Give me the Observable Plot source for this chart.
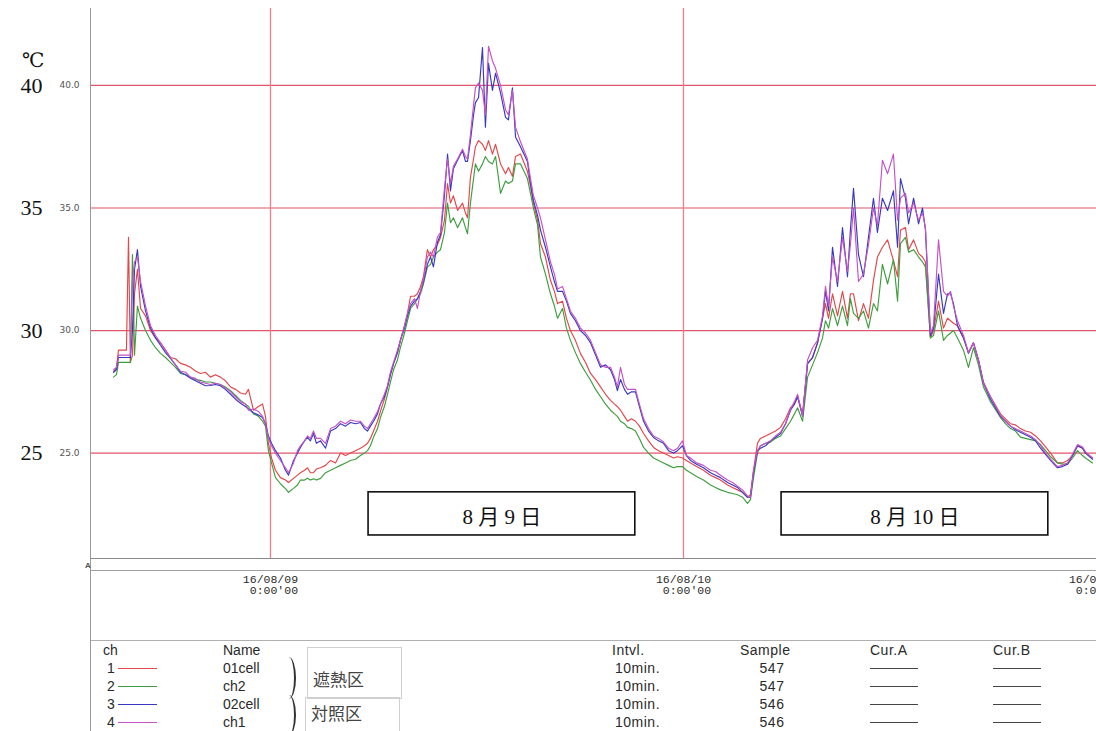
<!DOCTYPE html>
<html><head><meta charset="utf-8">
<script src="https://cdn.jsdelivr.net/npm/d3@7"></script>
<script src="https://cdn.jsdelivr.net/npm/@observablehq/plot@0.6"></script>
<style>
html,body{margin:0;padding:0;background:#fff;overflow:hidden;}
#wrap{position:relative;width:1096px;height:731px;overflow:hidden;background:#fff;}
#wrap .t{position:absolute;line-height:16px;height:16px;white-space:nowrap;color:#2a2a2a;font-family:"Liberation Sans",Arial,sans-serif;font-size:14px;}
#wrap .mono{font-family:"Liberation Sans",Arial,sans-serif;font-size:14px;color:#2a2a2a;letter-spacing:0.5px;}
#wrap .ln{position:absolute;}
#wrap .cjk{font-family:"Noto Sans CJK JP",sans-serif;font-size:17px;color:#444;line-height:20px;height:20px;}
</style></head><body><div id="wrap"></div>
<script>
// time in hours relative to 2016-08-09 0:00
const hours = [
-9.12,-8.95,-8.83,-8.37,-8.25,-8.14,-8.02,-7.90,-7.73,-7.55,
-7.26,-6.97,-6.68,-6.39,-6.10,-5.81,-5.52,-5.23,-4.94,-4.65,
-4.36,-4.07,-3.78,-3.49,-3.20,-2.91,-2.62,-2.32,-2.03,-1.74,
-1.45,-1.28,-0.99,-0.70,-0.46,-0.29,-0.12,0.06,0.29,0.58,
0.87,1.05,1.34,1.57,1.74,1.98,2.15,2.32,2.50,2.67,
2.91,3.20,3.49,3.78,4.07,4.36,4.65,4.94,5.23,5.46,
5.64,5.81,5.99,6.22,6.39,6.62,6.80,6.97,7.15,7.38,
7.55,7.79,7.96,8.14,8.37,8.54,8.72,8.89,9.12,9.30,
9.47,9.70,9.88,10.11,10.29,10.46,10.63,10.87,11.16,11.33,
11.45,11.62,11.80,11.91,12.09,12.32,12.49,12.67,12.90,13.08,
13.37,13.66,13.83,14.06,14.24,14.53,14.93,15.11,15.28,15.52,
15.69,15.98,16.27,16.50,16.68,16.97,17.20,17.43,17.72,18.01,
18.31,18.60,18.89,19.18,19.47,19.76,19.99,20.16,20.34,20.57,
20.75,20.98,21.21,21.44,21.68,21.97,22.26,22.55,22.84,23.13,
23.42,23.65,23.94,24.17,24.41,24.76,25.16,25.57,25.86,26.15,
26.56,26.85,27.14,27.43,27.72,27.89,28.07,28.30,28.47,28.77,
29.06,29.35,29.64,29.93,30.22,30.45,30.63,30.92,31.21,31.50,
31.79,32.08,32.25,32.43,32.66,32.95,33.24,33.53,33.70,33.88,
34.17,34.46,34.75,35.04,35.27,35.56,35.86,36.20,36.44,36.61,
36.90,37.08,37.37,37.66,37.89,38.06,38.35,38.53,38.82,39.11,
39.34,39.52,39.69,39.92,40.27,40.56,40.85,41.14,41.43,41.84,
42.42,42.71,43.00,43.29,43.58,43.87,44.17,44.46,44.75,45.04,
45.33,45.73,46.02,46.32,46.61,46.90,47.19,47.36,47.77
];
// ch1 01cell (red)
const ch1 = [
28.3,28.5,29.2,29.2,33.8,28.7,29.0,31.5,32.5,30.9,
30.6,30.0,29.7,29.5,29.2,28.9,28.85,28.66,28.6,28.5,
28.35,28.25,28.3,28.1,28.2,28.1,27.95,27.7,27.6,27.45,
27.4,27.6,26.75,26.9,27.0,26.5,25.4,24.8,24.3,24.0,
23.9,23.8,23.97,24.1,24.2,24.3,24.4,24.2,24.2,24.35,
24.4,24.5,24.7,24.6,25.0,24.9,25.0,25.1,25.2,25.3,
25.4,25.6,25.9,26.3,26.7,27.2,27.7,28.2,28.65,29.1,
29.6,30.2,30.7,31.4,31.4,31.5,31.8,32.2,33.3,33.0,
33.3,33.5,33.8,34.5,36.0,35.2,35.5,34.9,35.2,34.8,
34.6,36.25,37.0,37.5,37.75,37.6,37.35,37.75,37.2,37.6,
36.8,36.4,36.65,36.3,37.1,37.2,36.5,35.9,35.2,34.5,
33.55,33.0,32.05,31.6,31.1,31.2,30.5,30.0,29.6,29.07,
28.7,28.25,28.0,27.7,27.4,27.15,27.0,26.9,26.75,26.5,
26.3,26.4,26.3,26.1,25.8,25.5,25.23,25.1,25.0,24.9,
24.8,24.85,24.8,24.7,24.6,24.45,24.3,24.1,24.0,23.9,
23.7,23.6,23.5,23.4,23.2,23.3,24.3,25.4,25.6,25.7,
25.8,25.9,26.05,26.4,26.85,27.0,27.3,26.6,28.65,28.9,
29.5,30.5,31.1,30.5,31.5,30.6,31.6,30.5,31.5,31.5,
30.4,31.1,30.5,32.05,33.0,33.4,33.7,32.85,32.2,34.1,
34.2,33.3,33.7,33.15,33.0,32.8,29.7,30.0,31.2,30.1,
30.5,30.4,30.3,30.2,29.7,29.1,29.5,28.8,27.9,27.3,
26.6,26.4,26.2,26.15,26.0,25.9,25.85,25.7,25.5,25.25,
25.0,24.6,24.6,24.7,24.9,25.3,25.2,25.0,24.8
];
// ch2 (green)
const ch2 = [
28.1,28.2,28.7,28.7,28.7,28.7,33.1,29.0,31.0,30.5,
30.0,29.6,29.3,29.07,28.9,28.7,28.5,28.25,28.2,28.1,
28.0,27.97,27.9,27.9,27.85,27.8,27.7,27.55,27.35,27.15,
27.0,26.9,26.6,26.5,26.3,26.1,25.1,24.6,24.0,23.75,
23.55,23.4,23.56,23.7,23.9,23.9,23.97,23.9,23.95,23.9,
23.97,24.2,24.3,24.4,24.5,24.6,24.7,24.75,24.9,25.0,
25.1,25.3,25.65,26.0,26.45,26.9,27.4,27.9,28.4,28.8,
29.3,29.9,30.4,30.9,31.1,31.3,31.5,31.9,32.6,32.7,
33.0,33.2,33.3,34.0,35.2,34.4,34.6,34.2,34.6,34.2,
33.95,35.2,36.2,36.8,36.5,36.8,37.1,36.9,36.8,37.1,
35.6,36.1,36.0,36.1,36.8,36.8,36.2,35.6,35.0,34.3,
33.0,32.3,31.5,31.0,30.5,30.9,30.1,29.6,29.1,28.66,
28.3,27.97,27.6,27.3,27.0,26.75,26.6,26.5,26.3,26.2,
26.05,26.0,25.9,25.6,25.23,25.0,24.8,24.7,24.6,24.5,
24.4,24.45,24.45,24.3,24.2,24.05,23.9,23.7,23.6,23.5,
23.4,23.35,23.3,23.2,22.95,23.1,24.0,25.0,25.3,25.4,
25.45,25.6,25.7,26.0,26.3,26.6,26.85,26.3,28.1,28.6,
29.1,29.7,30.4,30.1,30.9,30.2,31.0,30.2,31.3,30.7,
30.5,30.8,30.1,31.1,30.8,32.7,31.9,32.9,31.2,33.55,
33.8,33.2,33.3,33.0,32.8,32.6,29.7,29.8,30.8,29.6,
29.8,29.9,30.0,29.7,29.2,28.5,29.3,28.6,27.7,27.1,
26.45,26.2,26.0,25.9,25.65,25.6,25.55,25.5,25.35,25.1,
24.85,24.6,24.55,24.55,24.8,25.1,24.9,24.8,24.6
];
// ch3 02cell (blue)
const ch3 = [
28.3,28.4,28.9,28.9,28.9,28.9,30.0,32.5,33.3,31.8,
30.8,30.1,29.7,29.4,29.1,28.86,28.6,28.3,28.2,28.05,
27.95,27.85,27.75,27.76,27.8,27.75,27.6,27.4,27.2,27.03,
26.9,26.8,26.65,26.55,26.45,26.2,25.7,25.4,25.1,24.8,
24.3,24.1,24.7,25.0,25.23,25.5,25.64,25.5,25.8,25.4,
25.5,25.2,25.9,26.0,26.2,26.1,26.25,26.2,26.25,26.0,
25.9,26.1,26.3,26.6,27.0,27.3,27.7,28.2,28.65,29.1,
29.6,30.1,30.6,31.0,31.2,31.3,31.6,32.0,32.7,33.0,
32.6,33.6,33.9,35.5,37.2,35.7,36.6,36.95,37.35,36.9,
36.9,37.75,38.8,39.3,39.5,41.55,38.3,40.9,39.8,40.5,
39.7,38.7,38.6,39.9,37.9,37.5,36.9,36.0,35.3,34.7,
34.1,33.4,32.6,32.0,31.6,31.6,31.2,30.7,30.4,30.0,
29.8,29.5,29.0,28.5,28.6,28.4,28.0,27.55,28.0,27.6,
27.4,27.5,27.5,26.9,26.3,25.9,25.64,25.5,25.4,25.1,
25.0,25.1,25.3,24.9,24.7,24.55,24.4,24.2,24.1,24.0,
23.8,23.7,23.6,23.4,23.2,23.2,24.2,25.1,25.2,25.3,
25.5,25.65,25.8,26.2,26.75,27.0,27.3,26.5,28.65,28.9,
29.5,30.5,31.6,30.8,33.4,31.8,34.2,32.2,34.1,35.8,
33.1,32.2,33.8,35.4,34.0,35.4,34.9,35.7,33.4,36.2,
35.4,34.35,35.4,34.35,35.0,34.1,29.8,30.1,32.3,30.7,
31.5,31.5,31.1,30.2,29.7,29.07,29.5,28.8,27.85,27.2,
26.5,26.3,26.1,25.95,25.85,25.75,25.65,25.5,25.2,24.95,
24.7,24.4,24.45,24.55,24.9,25.3,25.2,25.0,24.75
];
// ch4 ch1 (magenta)
const ch4 = [
28.4,28.5,29.0,29.0,29.0,29.0,32.0,32.8,33.0,32.0,
31.0,30.2,29.8,29.5,29.2,28.9,28.6,28.35,28.3,28.1,
28.05,27.9,27.85,27.8,27.85,27.8,27.65,27.5,27.3,27.1,
27.0,26.75,26.8,26.7,26.5,26.2,25.6,25.3,25.0,24.7,
24.4,24.2,24.6,25.1,25.3,25.5,25.7,25.6,25.9,25.6,
25.6,25.4,26.0,26.1,26.3,26.2,26.35,26.3,26.3,26.1,
26.0,26.2,26.4,26.7,27.0,27.4,27.75,28.3,28.7,29.2,
29.6,30.2,30.7,31.1,31.3,30.9,31.6,32.1,33.0,33.2,
33.0,33.8,34.0,35.8,37.0,36.0,36.7,37.0,37.4,37.1,
37.0,38.0,39.2,39.9,40.1,39.8,38.8,41.6,41.0,40.7,
40.0,39.0,38.8,39.8,38.3,37.7,37.0,36.2,35.5,35.0,
34.6,33.7,32.8,32.3,31.7,31.8,31.3,30.8,30.5,30.1,
29.9,29.6,29.1,28.6,28.5,28.5,28.1,27.7,28.5,27.8,
27.6,27.6,27.6,27.0,26.4,26.0,25.7,25.6,25.45,25.2,
25.1,25.2,25.5,24.9,24.8,24.6,24.5,24.3,24.25,24.1,
23.9,23.8,23.65,23.5,23.25,23.2,24.3,25.1,25.3,25.4,
25.5,25.7,25.85,26.2,26.8,27.1,27.4,26.5,28.8,29.3,
29.6,30.6,31.8,31.0,33.0,32.0,33.8,32.4,33.5,35.0,
32.0,32.3,33.5,35.0,34.3,36.95,36.4,37.2,34.5,35.4,
35.6,34.8,35.2,34.5,34.8,34.2,29.9,30.2,33.7,31.6,
31.4,31.6,31.0,30.4,29.8,29.1,29.5,28.8,27.85,27.3,
26.55,26.3,26.1,26.0,25.9,25.8,25.7,25.55,25.3,25.0,
24.75,24.45,24.5,24.6,24.95,25.35,25.25,25.05,24.8
];

const channelIds = ["1","2","3","4"];
const channelNames = ["01cell","ch2","02cell","ch1"];
const channelColors = ["#e2474a","#3e9e3e","#3838c2","#c452c8"];
const intervals = ["10min.","10min.","10min.","10min."];
const samples = ["547","547","546","546"];
const groupLabels = ["遮熱区","対照区"];
const dayLabels = ["8 月 9 日","8 月 10 日"];
const dateTicks = [0,24,48];
const dateTickLabels = ["16/08/09\n\u00a00:00'00","16/08/10\n\u00a00:00'00","16/08/11\n\u00a00:00'00"];
const gridTemps = [25,30,35,40];
const headers = ["ch","Name","Intvl.","Sample","Cur.A","Cur.B"];

const series = [ch1,ch2,ch3,ch4];
const rows = [];
series.forEach((s,k)=> s.forEach((v,i)=> rows.push({t: hours[i], v, ch: channelIds[k]})));

const plot = Plot.plot({
  width: 1096, height: 600,
  marginLeft: 91, marginRight: 0, marginTop: 8, marginBottom: 42,
  style: {background: "transparent", overflow: "visible"},
  x: {domain: [-10.40, 48]},
  y: {domain: [20.70, 43.14]},
  color: {domain: channelIds, range: channelColors},
  marks: [
    Plot.ruleY(gridTemps, {stroke: "#e0566a", strokeWidth: 1.2}),
    Plot.ruleX(dateTicks.slice(0,2), {stroke: "#ec7f8a", strokeWidth: 1.3}),
    Plot.axisX({ticks: dateTicks, tickFormat: d => dateTickLabels[dateTicks.indexOf(d)], tickSize: 0, tickPadding: 16,
      fontSize: 11.5, fontFamily: "Liberation Mono, monospace", fill: "#2a2a2a", label: null}),
    Plot.axisY({ticks: gridTemps, tickFormat: d => d.toFixed(1), tickSize: 0, tickPadding: 12,
      fontSize: 9, fontFamily: "DejaVu Sans, sans-serif", fill: "#555", label: null}),
    Plot.text(gridTemps, {y: d => d, text: d => String(d), frameAnchor: "left", dx: -71,
      fontSize: 22, fontFamily: "Liberation Serif, serif", fill: "#111"}),
    Plot.line(rows, {x: "t", y: "v", z: "ch", stroke: "ch", strokeWidth: 1.15}),
    Plot.rect(dayLabels, {x1: (d,i) => i*24 + 5.7, x2: (d,i) => i*24 + 21.2, y1: 21.64, y2: 23.40,
      fill: "white", stroke: "#111", strokeWidth: 1.6}),
    Plot.text(dayLabels, {x: (d,i) => i*24 + 13.45, y: 22.40, text: d => d, fontSize: 21,
      fontFamily: "Liberation Serif, Noto Sans CJK JP, serif", fill: "#111"})
  ]
});

const wrap = d3.select("#wrap");
wrap.node().appendChild(plot);
d3.select(plot).style("position","absolute").style("left","0px").style("top","0px");

function hline(left, top, width, color, h){
  wrap.append("div").attr("class","ln").style("left",left+"px").style("top",top+"px")
    .style("width",width+"px").style("height",(h||1)+"px").style("background",color);
}
function txt(t, left, cy, cls, extra){
  const d = wrap.append("div").attr("class","t " + (cls||"")).style("left",left+"px").style("top",(cy-8)+"px").text(t);
  if (extra) Object.entries(extra).forEach(([k,v]) => d.style(k, v));
  return d;
}
// frame lines
wrap.append("div").attr("class","ln").style("left","90px").style("top","8px").style("width","1px").style("height","723px").style("background","#9a9a9a");
hline(91, 558, 1005, "#8a8a8a");
hline(91, 570, 1005, "#a0a0a0");
hline(91, 640, 1005, "#b0b0b0");
txt("A", 85, 566, "", {"font-size":"8px","font-weight":"bold","color":"#555"});
// degree unit
txt("℃", 22, 57, "", {"font-size":"20px","font-family":"Liberation Serif, DejaVu Serif, serif","color":"#111","line-height":"22px","height":"22px"});

// legend table
const colX = [103, 223, 612, 740, 870, 993];
headers.forEach((h,i) => txt(h, colX[i], 650, i < 2 ? "" : "mono"));
channelIds.forEach((c,k) => {
  const cy = 668 + 18*k;
  txt(c, 107, cy);
  hline(118, cy, 39, channelColors[k]);
  txt(channelNames[k], 223, cy);
  txt(intervals[k], 615, cy, "mono");
  txt(samples[k], 750, cy, "mono", {"width":"44px","text-align":"center"});
  hline(870, cy, 48, "#444", 1.3);
  hline(993, cy, 48, "#444", 1.3);
});
// brackets
[[657, 42],[695, 40]].forEach(([top,h]) => {
  wrap.append("div").attr("class","ln").style("left","284px").style("top",top+"px").style("width","10px").style("height",h+"px")
    .style("border-right","2px solid #333").style("border-radius","0 60% 60% 0 / 0 50% 50% 0");
});
// group boxes
wrap.append("div").attr("class","ln").style("left","307px").style("top","647px").style("width","93px").style("height","50px").style("border","1px solid #d0d0d0");
wrap.append("div").attr("class","ln").style("left","305px").style("top","697px").style("width","93px").style("height","40px").style("border","1px solid #d0d0d0");
txt(groupLabels[0], 313, 677, "cjk");
txt(groupLabels[1], 311, 711, "cjk");
</script>
</body></html>
